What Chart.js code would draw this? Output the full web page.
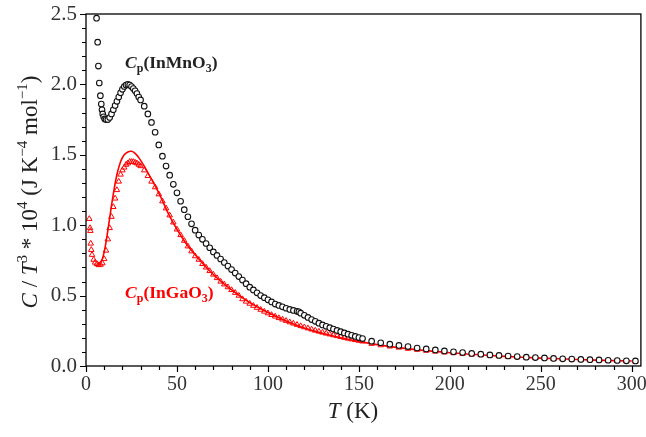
<!DOCTYPE html>
<html>
<head>
<meta charset="utf-8">
<script src="https://cdn.jsdelivr.net/npm/chart.js@4.4.1/dist/chart.umd.min.js"></script>
<style>
  html, body { margin: 0; padding: 0; background: #fff; }
  #wrap { width: 646px; height: 437px; }
</style>
</head>
<body>
<div id="wrap"><canvas id="chart"></canvas></div>
<script>
// InMnO3 (black circles): temperature (K) and C/T^3 * 10^4
const tempMn = [5.8, 6.4, 6.8, 7.3, 7.9, 8.4, 8.8, 9.2, 9.7, 10.3, 11, 12, 13, 14, 15, 16, 17, 18, 19, 20,
  21, 22, 23, 24, 25, 26, 27, 28, 29, 30, 32, 34, 36, 38, 40, 42, 44, 46, 48, 50,
  52, 54, 56, 58, 60, 62, 64, 66, 68, 70, 72, 74, 76, 78, 80, 82, 84, 86, 88, 90,
  92, 94, 96, 98, 100, 102, 104, 106, 108, 110, 112, 114, 116, 117, 118, 120, 122, 124, 126, 128,
  130, 132, 134, 136, 138, 140, 142, 144, 146, 148, 150, 152,
  157, 162, 167, 172, 177, 182, 187, 192, 197, 202, 207, 212, 217, 222, 227, 232, 237, 242, 247, 252,
  257, 262, 267, 272, 277, 282, 287, 292, 297, 302];
const cpMn = [2.47, 2.30, 2.13, 2.01, 1.92, 1.86, 1.82, 1.79, 1.77, 1.755, 1.75, 1.75, 1.765, 1.79, 1.82, 1.85, 1.88, 1.91, 1.94, 1.965,
  1.985, 1.995, 2.0, 1.995, 1.985, 1.97, 1.955, 1.935, 1.91, 1.89, 1.845, 1.79, 1.73, 1.66, 1.57, 1.49, 1.42, 1.355, 1.29, 1.23,
  1.17, 1.11, 1.06, 1.01, 0.965, 0.93, 0.90, 0.87, 0.84, 0.81, 0.785, 0.76, 0.735, 0.71, 0.685, 0.66, 0.635, 0.61, 0.585, 0.56,
  0.54, 0.52, 0.50, 0.485, 0.47, 0.455, 0.44, 0.43, 0.42, 0.41, 0.402, 0.395, 0.388, 0.385, 0.375, 0.36, 0.345, 0.33, 0.317, 0.304,
  0.292, 0.282, 0.272, 0.262, 0.253, 0.244, 0.235, 0.226, 0.218, 0.21, 0.202, 0.195,
  0.176, 0.165, 0.155, 0.146, 0.138, 0.128, 0.121, 0.114, 0.107, 0.101, 0.095, 0.089, 0.084, 0.079, 0.075, 0.071, 0.067, 0.063, 0.060, 0.057,
  0.054, 0.051, 0.049, 0.047, 0.045, 0.043, 0.041, 0.039, 0.037, 0.036];

// InGaO3 (red triangles)
const tempGa = [1.8, 2.2, 2.4, 2.6, 2.9, 3.3, 4.2, 5, 6, 7, 8, 9, 10, 11, 12, 13, 14, 15, 16, 17,
  18, 19, 20, 21, 22, 23, 24, 25, 26, 27, 28, 29, 30, 32, 34, 36, 38, 40, 42, 44,
  46, 48, 50, 52, 54, 56, 58, 60, 62, 64, 66, 68, 70, 72, 74, 76, 78, 80, 82, 84,
  86, 88, 90, 92, 94, 96, 98, 100, 102, 104, 106, 108, 110, 112, 114, 116, 118, 120, 122, 124,
  126, 128, 130, 132, 134, 136, 138, 140, 142, 144, 146, 148, 150, 152,
  157, 162, 167, 172, 177, 182, 187, 192, 197, 202, 207, 212, 217, 222, 227, 232, 237, 242, 247, 252,
  257, 262, 267, 272, 277, 282, 287, 292, 297, 302];
const cpGa = [1.045, 0.98, 0.96, 0.87, 0.825, 0.79, 0.755, 0.735, 0.725, 0.717, 0.72, 0.73, 0.76, 0.82, 0.90, 0.98, 1.06, 1.13, 1.19, 1.25,
  1.31, 1.36, 1.39, 1.41, 1.43, 1.44, 1.45, 1.45, 1.45, 1.445, 1.44, 1.43, 1.42, 1.39, 1.35, 1.31, 1.27, 1.22, 1.17, 1.12,
  1.07, 1.02, 0.97, 0.93, 0.89, 0.85, 0.815, 0.78, 0.755, 0.725, 0.70, 0.675, 0.65, 0.625, 0.60, 0.58, 0.56, 0.54, 0.52, 0.50,
  0.475, 0.458, 0.443, 0.428, 0.414, 0.40, 0.387, 0.375, 0.363, 0.352, 0.341, 0.331, 0.321, 0.311, 0.302, 0.293, 0.284, 0.276, 0.268, 0.26,
  0.252, 0.245, 0.238, 0.231, 0.225, 0.219, 0.213, 0.207, 0.201, 0.195, 0.19, 0.185, 0.18, 0.175,
  0.158, 0.148, 0.139, 0.131, 0.123, 0.116, 0.109, 0.103, 0.097, 0.092, 0.087, 0.082, 0.078, 0.074, 0.070, 0.066, 0.063, 0.060, 0.057, 0.054,
  0.051, 0.049, 0.046, 0.044, 0.042, 0.040, 0.038, 0.036, 0.034, 0.032];

// InGaO3 model curve (red line)
const tempFit = [7, 9, 11, 13, 15, 17, 19, 21, 23, 25, 27, 29, 32, 35, 40, 45, 50, 55, 60, 70,
  80, 90, 100, 110, 120, 130, 140, 150, 160, 180, 200, 220, 240, 260, 280, 300];
const cpFit = [0.72, 0.76, 0.88, 1.05, 1.22, 1.36, 1.45, 1.50, 1.52, 1.525, 1.51, 1.48, 1.42, 1.35, 1.23, 1.09, 0.97, 0.87, 0.79, 0.65,
  0.54, 0.45, 0.38, 0.32, 0.27, 0.232, 0.20, 0.175, 0.152, 0.118, 0.094, 0.076, 0.062, 0.051, 0.042, 0.035];

const xTicks = [0, 50, 100, 150, 200, 250, 300];
const yTicks = [0, 0.5, 1.0, 1.5, 2.0, 2.5];

const SERIF = '"Liberation Serif", "Times New Roman", serif';

function pts(xs, ys) {
  return xs.map((x, i) => ({ x: x, y: ys[i] }));
}

// draw a run of text pieces: {t, font, dy}
function drawRich(ctx, parts, x, y, align) {
  let total = 0;
  parts.forEach(p => { ctx.font = p.font; p.w = ctx.measureText(p.t).width; total += p.w; });
  let cx = align === 'center' ? x - total / 2 : x;
  ctx.textBaseline = 'alphabetic';
  ctx.textAlign = 'left';
  parts.forEach(p => {
    ctx.font = p.font;
    ctx.fillText(p.t, cx, y + (p.dy || 0));
    cx += p.w;
  });
}

const framePlugin = {
  id: 'frame',
  afterDraw(chart) {
    const ctx = chart.ctx;
    const a = chart.chartArea;
    const xs = chart.scales.x, ys = chart.scales.y;
    ctx.save();
    ctx.strokeStyle = '#000';
    ctx.lineWidth = 1.3;
    ctx.strokeRect(a.left, a.top, a.right - a.left, a.bottom - a.top);

    // tick marks, major and minor, outside the box
    ctx.lineWidth = 1.2;
    ctx.beginPath();
    for (let v = 0; v <= 300; v += 10) {
      const px = Math.round(xs.getPixelForValue(v)) + 0.5;
      const len = v % 50 === 0 ? 6 : 4;
      ctx.moveTo(px, a.bottom);
      ctx.lineTo(px, a.bottom + len);
    }
    for (let i = 0; i <= 25; i++) {
      const py = Math.round(ys.getPixelForValue(i / 10)) + 0.5;
      const len = i % 5 === 0 ? 6 : 4;
      ctx.moveTo(a.left, py);
      ctx.lineTo(a.left - len, py);
    }
    ctx.stroke();

    // axis titles
    ctx.fillStyle = '#222';
    const n = '23px ' + SERIF, it = 'italic 23px ' + SERIF, sup = '15px ' + SERIF;
    drawRich(ctx, [
      { t: 'T', font: it },
      { t: ' (K)', font: n }
    ], 353, 418, 'center');

    ctx.translate(37, 192);
    ctx.rotate(-Math.PI / 2);
    drawRich(ctx, [
      { t: 'C', font: it },
      { t: ' / ', font: n },
      { t: 'T', font: it },
      { t: '3', font: sup, dy: -10 },
      { t: ' * 10', font: n },
      { t: '4', font: sup, dy: -10 },
      { t: ' (J K', font: n },
      { t: '\u22124', font: sup, dy: -10 },
      { t: ' mol', font: n },
      { t: '\u22121', font: sup, dy: -10 },
      { t: ')', font: n }
    ], 0, 0, 'center');
    ctx.restore();

    // series labels
    ctx.save();
    const b = 'bold 17.5px ' + SERIF, bi = 'italic bold 17.5px ' + SERIF, sub = 'bold 12px ' + SERIF;
    ctx.fillStyle = '#222';
    drawRich(ctx, [
      { t: 'C', font: bi }, { t: 'p', font: sub, dy: 4 },
      { t: '(InMnO', font: b }, { t: '3', font: sub, dy: 4 }, { t: ')', font: b }
    ], xs.getPixelForValue(21.5), ys.getPixelForValue(2.115), 'left');
    ctx.fillStyle = '#ff0000';
    drawRich(ctx, [
      { t: 'C', font: bi }, { t: 'p', font: sub, dy: 4 },
      { t: '(InGaO', font: b }, { t: '3', font: sub, dy: 4 }, { t: ')', font: b }
    ], xs.getPixelForValue(21.5), ys.getPixelForValue(0.485), 'left');
    ctx.restore();
  }
};

new Chart(document.getElementById('chart'), {
  type: 'scatter',
  data: {
    datasets: [
      {
        label: 'InMnO3',
        data: pts(tempMn, cpMn),
        pointStyle: 'circle',
        pointRadius: 2.8,
        borderWidth: 1.1,
        borderColor: '#111',
        backgroundColor: '#fff'
      },
      {
        label: 'InGaO3',
        data: pts(tempGa, cpGa),
        pointStyle: 'triangle',
        pointRadius: 3.2,
        borderWidth: 1,
        borderColor: '#ff0000',
        backgroundColor: 'rgba(255,255,255,0)'
      },
      {
        label: 'InGaO3 fit',
        data: pts(tempFit, cpFit),
        showLine: true,
        tension: 0.4,
        pointRadius: 0,
        borderWidth: 1.6,
        borderColor: '#ff0000'
      }
    ]
  },
  options: {
    responsive: true,
    maintainAspectRatio: false,
    animation: false,
    layout: { padding: { top: 14, right: 5, left: 0, bottom: 0 } },
    plugins: { legend: { display: false }, tooltip: { enabled: false } },
    scales: {
      x: {
        type: 'linear',
        min: 0,
        max: 305,
        grid: { display: false, drawTicks: false },
        border: { display: false },
        afterBuildTicks: s => { s.ticks = xTicks.map(v => ({ value: v })); },
        afterFit: s => { s.height = 71; s.paddingLeft = 0; s.paddingRight = 0; },
        ticks: { padding: 7, color: '#333', font: { family: SERIF, size: 20 } }
      },
      y: {
        type: 'linear',
        min: 0,
        max: 2.5,
        grid: { display: false, drawTicks: false },
        border: { display: false },
        afterBuildTicks: s => { s.ticks = yTicks.map(v => ({ value: v })); },
        afterFit: s => { s.width = 86; s.paddingTop = 0; s.paddingBottom = 0; },
        ticks: {
          padding: 9,
          color: '#333',
          font: { family: SERIF, size: 21 },
          callback: v => v.toFixed(1)
        }
      }
    }
  },
  plugins: [framePlugin]
});
</script>
</body>
</html>
